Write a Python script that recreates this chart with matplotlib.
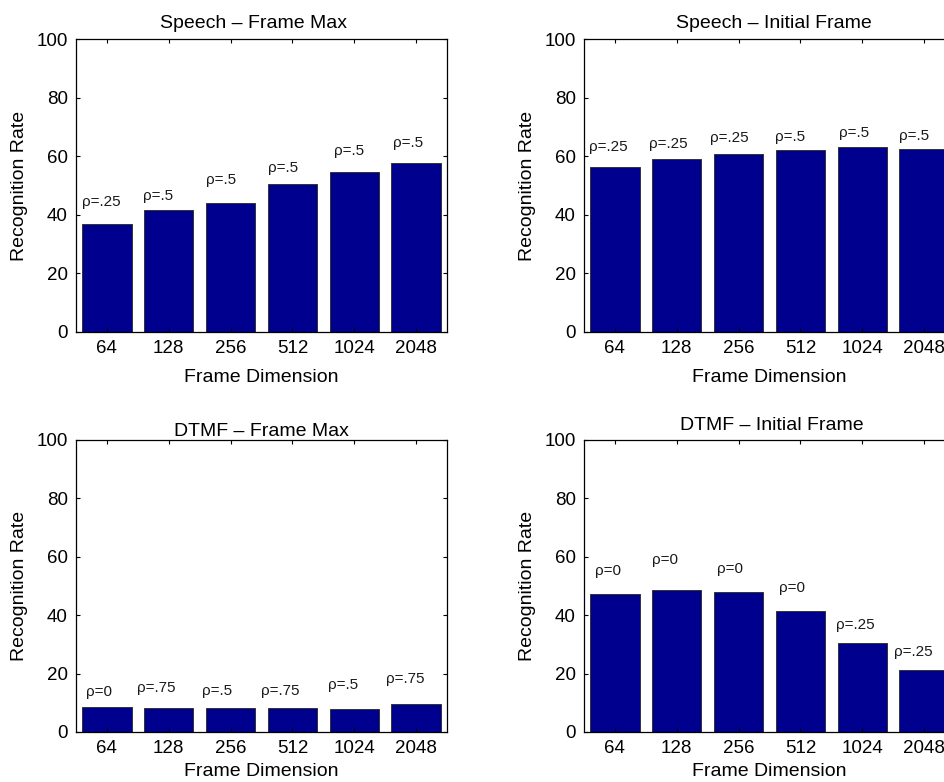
import numpy as np
import matplotlib
matplotlib.use('Agg')
import matplotlib.pyplot as plt

plt.rcParams['font.family'] = ['Liberation Sans', 'DejaVu Sans']

# 数据
dims = ['64', '128', '256', '512', '1024', '2048']
titles = ['Speech \u2013 Frame Max', 'Speech \u2013 Initial Frame',
          'DTMF \u2013 Frame Max', 'DTMF \u2013 Initial Frame']

speech_max = [36.9, 41.5, 44.1, 50.4, 54.5, 57.6]
speech_init = [56.4, 59.0, 60.6, 62.0, 63.1, 62.5]
dtmf_max = [8.7, 8.2, 8.2, 8.1, 7.9, 9.6]
dtmf_init = [47.4, 48.8, 47.9, 41.6, 30.6, 21.2]

speech_max_rho = ['.25', '.5', '.5', '.5', '.5', '.5']
speech_init_rho = ['.25', '.25', '.25', '.5', '.5', '.5']
dtmf_max_rho = ['0', '.75', '.5', '.75', '.5', '.75']
dtmf_init_rho = ['0', '0', '0', '0', '.25', '.25']

# 标注位置（数据坐标）
speech_max_lx = [0.60, 1.58, 2.61, 3.61, 4.68, 5.63]
speech_max_ly = [44.4, 46.4, 51.9, 56.0, 61.8, 64.5]
speech_init_lx = [0.58, 1.55, 2.53, 3.59, 4.63, 5.60]
speech_init_ly = [63.2, 64.2, 66.3, 66.4, 68.0, 66.9]
dtmf_max_lx = [0.66, 1.49, 2.54, 3.49, 4.58, 5.52]
dtmf_max_ly = [13.6, 15.1, 14.1, 14.2, 16.0, 18.0]
dtmf_init_lx = [0.68, 1.60, 2.65, 3.66, 4.58, 5.52]
dtmf_init_ly = [55.2, 58.8, 55.9, 49.2, 36.6, 27.3]

values = [speech_max, speech_init, dtmf_max, dtmf_init]
rhos = [speech_max_rho, speech_init_rho, dtmf_max_rho, dtmf_init_rho]
lxs = [speech_max_lx, speech_init_lx, dtmf_max_lx, dtmf_init_lx]
lys = [speech_max_ly, speech_init_ly, dtmf_max_ly, dtmf_init_ly]

W, H = 944, 782
fig = plt.figure(figsize=(W / 100, H / 100), dpi=100)

# 子图位置（像素）：left, top, bottom
boxes = [(76, 39, 332), (584, 39, 332), (76, 440, 732), (584, 440, 732)]
title_off = [16, 16, 8, 15]
title_dx = [-8, 4, 0, 2]
axw = 371

x = np.arange(1, len(dims) + 1)
for i in range(4):
    l, t, b = boxes[i]
    ax = fig.add_axes([l / W, (H - b) / H, axw / W, (b - t) / H])
    ax.bar(x, values[i], width=0.8, color='#00008F', edgecolor='#333333', linewidth=0.7)
    for j in range(len(dims)):
        ax.text(lxs[i][j], lys[i][j], '\u03c1=' + rhos[i][j], fontsize=11,
                ha='left', va='center', color='#1a1a1a')
    ax.set_xlim(0.5, 6.5)
    ax.set_ylim(0, 100)
    ax.set_xticks(x)
    ax.set_xticklabels(dims)
    ax.set_yticks(np.arange(0, 101, 20))
    ax.tick_params(direction='in', top=True, right=True, length=3, width=0.8,
                   labelsize=13.5, pad=6)
    for s in ax.spines.values():
        s.set_linewidth(0.9)
    ax.text(0.5 + title_dx[i] / axw, 1 + title_off[i] / (b - t), titles[i],
            transform=ax.transAxes, ha='center', va='center', fontsize=14)
    ax.set_ylabel('Recognition Rate', fontsize=14, va='center')
    ax.yaxis.set_label_coords(-56 / axw, 0.5)
    ax.set_xlabel('Frame Dimension', fontsize=14, va='center')
    ax.xaxis.set_label_coords(0.5, -(40 if i >= 2 else 46) / (b - t))

plt.savefig('out.png', dpi=100)
plt.close()
